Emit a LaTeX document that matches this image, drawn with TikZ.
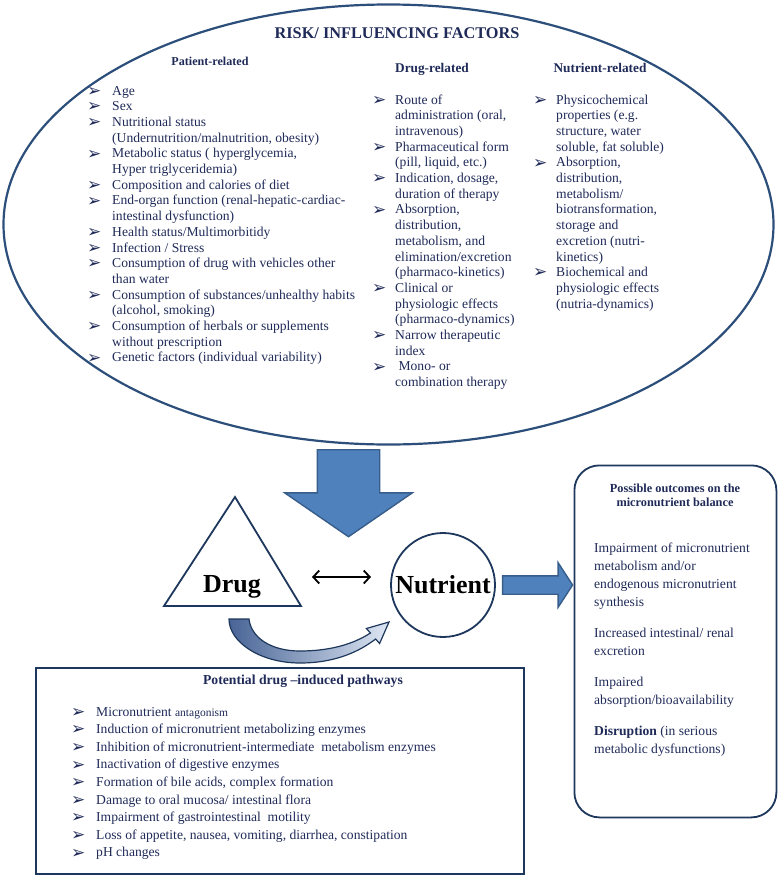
\documentclass[tikz,border=0pt]{standalone}
\usepackage{fontspec}
\setmainfont{Liberation Serif}
\newfontfamily\bulfont{DejaVu Sans}
\usetikzlibrary{positioning,shapes.geometric,shapes.arrows,arrows.meta}

\definecolor{ink}{RGB}{31,42,88}
\definecolor{rimblue}{RGB}{44,78,122}
\definecolor{navy}{RGB}{30,55,92}
\definecolor{fillblue}{RGB}{79,129,189}
\definecolor{edgeblue}{RGB}{56,93,138}
\definecolor{curvdark}{RGB}{72,100,150}
\definecolor{curvlight}{RGB}{222,231,243}

\newcommand{\bul}{\raisebox{-1.2pt}{\bulfont\fontsize{17}{11}\selectfont ➢}}

\begin{document}
\begin{tikzpicture}[
    x=1pt, y=-1pt,
    colhead/.style={anchor=base, inner sep=0, text=ink, font=\bfseries\fontsize{13.3}{15}\selectfont},
    listing/.style={anchor=base west, inner sep=0, text=ink, font=\fontsize{13.6}{15.7}\selectfont},
    bigword/.style={anchor=base, inner sep=0, font=\bfseries\fontsize{26}{28}\selectfont},
    rim/.style={draw=navy, line width=1.8pt, fill=white},
    dblock/.style={single arrow, draw=edgeblue, fill=fillblue, line width=1.4pt, inner xsep=0, inner ysep=30.5pt,
        single arrow head extend=32.5pt, single arrow tip angle=111, minimum height=87pt},
    rblock/.style={single arrow, draw=edgeblue, fill=fillblue, line width=1.4pt, inner xsep=0, inner ysep=8.5pt,
        single arrow head extend=13pt, single arrow tip angle=114, minimum height=70pt},
    twoway/.style={{Straight Barb[length=6pt,width=13pt]}-{Straight Barb[length=6pt,width=13pt]}, line width=1.8pt}
]
\useasboundingbox (0,0) rectangle (778,876);

% Risk factors
\node[ellipse, draw=rimblue, line width=2.2pt, minimum width=770pt, minimum height=440pt, inner sep=0] (risk) at (388.5,224.5) {};
\node[colhead, font=\bfseries\fontsize{16.3}{18}\selectfont] (title) at (397,38) {RISK/ INFLUENCING FACTORS};
\node[colhead, font=\bfseries\fontsize{12.1}{14}\selectfont] (pathead) at (210,65.5) {Patient-related};
\node[colhead] (drughead) at (432,72) {Drug-related};
\node[colhead] (nuthead) at (600,72) {Nutrient-related};

\node[listing] (patlist) at (87,95) {\begin{tabular}[t]{@{}p{25pt}@{}l@{}}
\bul & Age\\
\bul & Sex\\
\bul & Nutritional status\\
     & (Undernutrition/malnutrition, obesity)\\
\bul & Metabolic status ( hyperglycemia,\\
     & Hyper triglyceridemia)\\
\bul & Composition and calories of diet\\
\bul & End-organ function (renal-hepatic-cardiac-\\
     & intestinal dysfunction)\\
\bul & Health status/Multimorbitidy\\
\bul & Infection / Stress\\
\bul & Consumption of drug with vehicles other\\
     & than water\\
\bul & Consumption of substances/unhealthy habits\\
     & (alcohol, smoking)\\
\bul & Consumption of herbals or supplements\\
     & without prescription\\
\bul & Genetic factors (individual variability)
\end{tabular}};

\node[listing] (druglist) at (372,104) {\begin{tabular}[t]{@{}p{23pt}@{}l@{}}
\bul & Route of\\
     & administration (oral,\\
     & intravenous)\\
\bul & Pharmaceutical form\\
     & (pill, liquid, etc.)\\
\bul & Indication, dosage,\\
     & duration of therapy\\
\bul & Absorption,\\
     & distribution,\\
     & metabolism, and\\
     & elimination/excretion\\
     & (pharmaco-kinetics)\\
\bul & Clinical or\\
     & physiologic effects\\
     & (pharmaco-dynamics)\\
\bul & Narrow therapeutic\\
     & index\\
\bul & \ Mono- or\\
     & combination therapy
\end{tabular}};

\node[listing] (nutlist) at (533,104) {\begin{tabular}[t]{@{}p{23pt}@{}l@{}}
\bul & Physicochemical\\
     & properties (e.g.\\
     & structure, water\\
     & soluble, fat soluble)\\
\bul & Absorption,\\
     & distribution,\\
     & metabolism/\\
     & biotransformation,\\
     & storage and\\
     & excretion (nutri-\\
     & kinetics)\\
\bul & Biochemical and\\
     & physiologic effects\\
     & (nutria-dynamics)
\end{tabular}};

% Interaction
\node[dblock, rotate=-90, anchor=west] (downarr) at (348.5,449) {};
\draw[rim, line join=miter] (235,497) -- (301,606) -- (164,606) -- cycle;
\node[bigword] (drug) at (232,592) {Drug};
\node[circle, rim, minimum size=104pt, inner sep=0, font=\bfseries\fontsize{26}{28}\selectfont] (nut) at (443,585) {Nutrient};
\coordinate (tw1) at (312,577);
\coordinate (tw2) at (371,577);
\draw[twoway] (tw1) -- (tw2);
\node[rblock, right=6pt of nut] (rightarr) {};

% curved arrow drug -> nutrient
\shadedraw[left color=curvdark, right color=curvlight, draw=navy, line width=1.2pt]
  (229,619) .. controls (229,642) and (260,663) .. (300,663)
  .. controls (336,663) and (360,651) .. (375.6,639)
  -- (379.6,643.5) -- (389,622) -- (366.4,628.5) -- (370.4,633)
  .. controls (352,645) and (328,651) .. (300,651)
  .. controls (270,651) and (251,637) .. (249,619) -- cycle;

% Pathways
\node[draw=navy, line width=2.2pt, minimum width=488pt, minimum height=206pt, anchor=north west, inner sep=0] (pathbox) at (35,667) {};
\node[colhead, font=\bfseries\fontsize{13.7}{15}\selectfont] (pathtitle) at (303,684) {Potential drug --induced pathways};
\node[listing, font=\fontsize{13.6}{17.6}\selectfont] (pathlist) at (71,716) {\begin{tabular}[t]{@{}p{25pt}@{}l@{}}
\bul & Micronutrient {\fontsize{11.5}{14}\selectfont antagonism}\\
\bul & Induction of micronutrient metabolizing enzymes\\
\bul & Inhibition of micronutrient-intermediate\ \ metabolism enzymes\\
\bul & Inactivation of digestive enzymes\\
\bul & Formation of bile acids, complex formation\\
\bul & Damage to oral mucosa/ intestinal flora\\
\bul & Impairment of gastrointestinal\ \ motility\\
\bul & Loss of appetite, nausea, vomiting, diarrhea, constipation\\
\bul & pH changes
\end{tabular}};

% Outcomes
\node[draw=navy, line width=1.8pt, rounded corners=25pt, minimum width=202pt, minimum height=352pt, anchor=north west, inner sep=0] (outc) at (573.5,464.5) {};
\node[colhead, font=\bfseries\fontsize{12.3}{14}\selectfont] (outtitle) at (675,492) {\begin{tabular}[t]{@{}c@{}}Possible outcomes on the\\ micronutrient balance\end{tabular}};
\node[listing, font=\fontsize{13.6}{18}\selectfont] (outtxt) at (594,552) {\begin{tabular}[t]{@{}l@{}}
Impairment of micronutrient\\
metabolism and/or\\
endogenous micronutrient\\
synthesis\\[13pt]
Increased intestinal/ renal\\
excretion\\[13pt]
Impaired\\
absorption/bioavailability\\[13pt]
\textbf{Disruption} (in serious\\
metabolic dysfunctions)
\end{tabular}};

\end{tikzpicture}
\end{document}
